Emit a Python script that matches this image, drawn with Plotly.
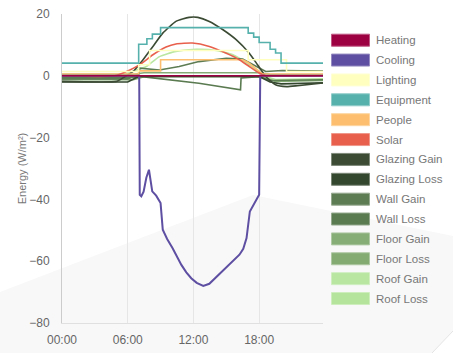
import plotly.graph_objects as go

# ---- data (hours of day, W/m2) ----
series_names = ["Heating", "Cooling", "Lighting", "Equipment", "People", "Solar",
                "Glazing Gain", "Glazing Loss", "Wall Gain", "Wall Loss",
                "Floor Gain", "Floor Loss", "Roof Gain", "Roof Loss"]
series_colors = ["#9e0142", "#5e4fa2", "#ffffbf", "#56b1ad", "#fdbf6f", "#e8604c",
                 "#3b4b34", "#33472e", "#5d7c53", "#5a7a50",
                 "#86ad76", "#83ab72", "#b9e6a0", "#b5e59c"]

heating_t = [0, 23.83]
heating_v = [0, 0]

cooling_t = [0, 7.05, 7.1, 7.24, 7.45, 7.7, 7.94, 8.1, 8.24, 8.6, 9.0, 9.2, 9.6, 10.1, 10.5,
             10.9, 11.35, 11.8, 12.3, 12.9, 13.45, 13.9, 14.4, 15.0, 15.6, 16.2, 16.55, 16.85,
             17.15, 17.7, 18.0, 18.1, 23.83]
cooling_v = [0, 0, -38.5, -39.0, -37.5, -33.0, -30.4, -34.0, -37.4, -38.8, -41.2, -49.8,
             -52.8, -55.8, -58.6, -61.2, -63.6, -65.5, -67.0, -68.0, -67.3, -65.8, -63.9,
             -62.0, -60.1, -57.9, -56.0, -52.5, -43.9, -40.7, -38.5, 0, 0]

lighting_t = [0, 7.0, 8.0, 17.0, 20.5, 23.83]
lighting_v = [1.4, 3.6, 8.2, 5.2, 1.4, 1.4]

equipment_t = [0, 7.0, 7.75, 8.25, 9.0, 17.0, 17.5, 18.0, 19.0, 19.5, 20.0, 23.83]
equipment_v = [4.1, 10.2, 12.0, 13.5, 15.6, 13.8, 12.5, 10.8, 8.6, 7.4, 4.1, 4.1]

people_t = [0, 7.0, 7.0, 9.0, 9.0, 16.5, 17.0, 17.5, 18.0, 18.3, 23.83]
people_v = [0.6, 0.6, 1.6, 1.6, 5.2, 5.2, 4.3, 2.8, 1.3, 0.6, 0.6]

solar_t = [0, 4.8, 6.2, 7.1, 8.3, 9.5, 10.4, 11.9, 13.45, 15.0, 16.2, 17.1, 18.0, 18.6, 23.83]
solar_v = [0, 0, 1.9, 3.6, 6.8, 9.3, 10.3, 10.6, 9.5, 7.3, 5.2, 3.0, 0.9, 0, 0]

glazing_gain_t = [0, 5.0, 5.6, 6.5, 7.4, 8.3, 9.2, 10.4, 11.6, 12.4, 13.45, 14.7, 15.9, 17.1,
                  17.85, 18.6, 19.5, 20.5, 21.5, 23.83]
glazing_gain_v = [-1.8, -1.8, -0.6, 1.4, 5.2, 9.5, 13.8, 17.6, 18.9, 18.9, 17.6, 14.9, 11.7,
                  7.3, 3.6, -0.2, -2.9, -3.5, -3.2, -2.3]

glazing_loss_t = [0, 6.0, 7.0, 18.0, 19.0, 20.0, 23.83]
glazing_loss_v = [-2.0, -2.0, -0.2, -0.2, -2.0, -2.6, -2.3]

wall_gain_t = [0, 6.0, 7.0, 7.1, 8.9, 10.7, 12.5, 15.0, 16.5, 17.7, 18.6, 20.1, 23.83]
wall_gain_v = [-1.0, -1.0, 0.5, 2.5, 1.9, 3.0, 4.6, 5.7, 5.4, 3.0, 1.4, 1.7, 1.5]

wall_loss_t = [0, 6.5, 7.1, 12.5, 16.3, 16.35, 18.0, 19.0, 23.83]
wall_loss_v = [-0.5, -0.5, -0.2, -2.4, -4.5, -0.7, -0.3, -1.5, -1.3]

floor_gain_t = [0, 6.5, 7.5, 18.0, 19.0, 23.83]
floor_gain_v = [0.5, 0.5, 1.0, 1.0, 0.5, 0.4]

floor_loss_t = [0, 6.5, 7.5, 18.2, 19.5, 23.83]
floor_loss_v = [-1.3, -1.3, -0.3, -0.3, -1.8, -1.5]

roof_gain_t = [0, 5.5, 6.8, 7.7, 8.9, 10.4, 12.25, 14.1, 15.6, 17.1, 18.3, 19.0, 23.83]
roof_gain_v = [0.3, 0.3, 1.9, 3.0, 6.2, 7.9, 8.6, 8.2, 6.8, 3.6, 0.3, 0.2, 0.3]

roof_loss_t = [0, 6.0, 7.0, 18.3, 19.5, 23.83]
roof_loss_v = [-0.8, -0.8, 0, 0, -1.2, -1.0]

x_tickvals = [0, 6, 12, 18]
x_ticktext = ["00:00", "06:00", "12:00", "18:00"]
y_tickvals = [20, 0, -20, -40, -60, -80]

series_t = [heating_t, cooling_t, lighting_t, equipment_t, people_t, solar_t,
            glazing_gain_t, glazing_loss_t, wall_gain_t, wall_loss_t,
            floor_gain_t, floor_loss_t, roof_gain_t, roof_loss_t]
series_v = [heating_v, cooling_v, lighting_v, equipment_v, people_v, solar_v,
            glazing_gain_v, glazing_loss_v, wall_gain_v, wall_loss_v,
            floor_gain_v, floor_loss_v, roof_gain_v, roof_loss_v]
step_series = {"Lighting", "Equipment"}
smooth_series = {"Solar", "Glazing Gain", "Roof Gain"}

# draw order: greens first, key series on top
draw_order = [13, 12, 11, 10, 9, 8, 7, 6, 4, 5, 2, 3, 1, 0]

W, H = 453, 353
L, R, T, B = 62, 323, 14, 323  # plot area in pixels

def px(x):
    return (x - L) / (R - L)

def py(y):
    return (B - y) / (B - T)

fig = go.Figure()
for i in draw_order:
    name = series_names[i]
    if name in step_series:
        shape = "hv"
    elif name in smooth_series:
        shape = "spline"
    else:
        shape = "linear"
    line = dict(color=series_colors[i], width=2 if name == "Cooling" else 1.6, shape=shape)
    if shape == "spline":
        line["smoothing"] = 0.5
    fig.add_trace(go.Scatter(
        x=series_t[i], y=series_v[i], mode="lines", name=name,
        line=line, showlegend=False, hoverinfo="skip"))

def lighten(hexc, f=0.35):
    h = hexc.lstrip("#")
    r, g, b = int(h[0:2], 16), int(h[2:4], 16), int(h[4:6], 16)
    r, g, b = [int(c + (255 - c) * f) for c in (r, g, b)]
    return "#%02x%02x%02x" % (r, g, b)

shapes = []
# very faint perspective floor plane in background
pts = [(0, 292), (253, 195), (453, 236), (453, 331), (432, 353), (0, 353)]
path = "M " + " L ".join("%f,%f" % (px(a), py(b)) for a, b in pts) + " Z"
shapes.append(dict(type="path", xref="paper", yref="paper", path=path,
                   fillcolor="#f8f8f8", line=dict(width=0), layer="below"))
shapes.append(dict(type="line", xref="paper", yref="paper",
                   x0=px(432), y0=py(353), x1=px(453), y1=py(331),
                   line=dict(color="#e4e4e4", width=1), layer="below"))

annotations = []
for k, name in enumerate(series_names):
    cy = 40.2 + k * 19.87
    shapes.append(dict(type="rect", xref="paper", yref="paper",
                       x0=px(331.5), x1=px(369.5), y0=py(cy - 6), y1=py(cy + 6),
                       fillcolor=series_colors[k],
                       line=dict(color=lighten(series_colors[k]), width=1)))
    annotations.append(dict(xref="paper", yref="paper", x=px(374), y=py(cy),
                            xanchor="left", yanchor="middle", showarrow=False,
                            text=name, font=dict(size=11.5, color="#777777",
                                                 family="Liberation Sans, Arial, sans-serif")))

fig.update_layout(
    width=W, height=H,
    margin=dict(l=L, r=W - R, t=T, b=H - B, autoexpand=False),
    paper_bgcolor="white", plot_bgcolor="rgba(0,0,0,0)",
    font=dict(family="Liberation Sans, Arial, sans-serif", size=12, color="#666666"),
    shapes=shapes, annotations=annotations,
    xaxis=dict(range=[0, 23.83], tickvals=x_tickvals, ticktext=x_ticktext,
               showgrid=True, gridcolor="#e6e6e6", gridwidth=1, zeroline=False,
               showline=True, linecolor="#e0e0e0", linewidth=1, ticks="",
               automargin=False,
               ticklabelstandoff=6, tickfont=dict(size=12, color="#666666")),
    yaxis=dict(range=[-80, 20], tickvals=y_tickvals, showgrid=False, zeroline=False,
               showline=True, linecolor="#cccccc", linewidth=1, ticks="",
               automargin=False,
               ticklabelstandoff=9, tickfont=dict(size=12, color="#666666"),
               title=dict(text="Energy (W/m²)", standoff=0,
                          font=dict(size=11, color="#777777"))),
)

fig.write_html("out.html")
